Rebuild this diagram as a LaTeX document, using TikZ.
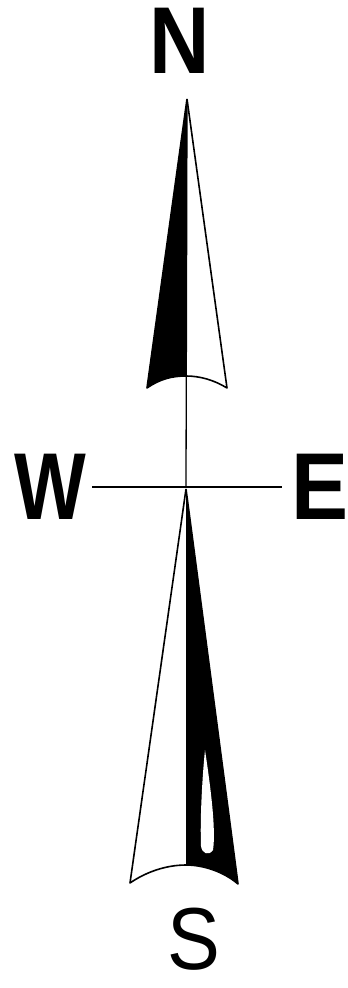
\documentclass[tikz,border=0pt]{standalone}
\usepackage{fontspec}
\setmainfont{Liberation Sans}
\usepackage{tikz}
\usetikzlibrary{calc}

\begin{document}
\begin{tikzpicture}[
  x=1pt,y=-1pt,
  letter/.style={inner sep=0pt,font=\fontsize{95}{95}\selectfont\bfseries},
  outline/.style={draw=black,line width=1.6pt,line join=round},
  axis/.style={draw=black,line width=1.3pt}
]
\useasboundingbox (0,0) rectangle (348,988);

% cardinal letters
\node[letter,xscale=0.88] (n) at (180,41) {N};
\node[letter,xscale=0.8] (w) at (50,487) {W};
\node[letter,xscale=0.9] (e) at (320,487) {E};
\node[letter,font=\fontsize{88}{88}\selectfont,xscale=0.9] (s) at (194,939) {S};

\coordinate (ctr) at (186,487);
\coordinate (ntip) at (187,99);
\coordinate (stip) at (186,489);
\coordinate (wend) at (92,487);
\coordinate (eend) at (282,487);

% north needle
\fill (ntip) -- (147,388) .. controls (160,379) and (172,376) .. (186,376) -- cycle;
\draw[outline] (ntip) -- (147,388) .. controls (160,379) and (172,376) .. (186,376)
  .. controls (200,376) and (214,380) .. (227,388) -- (ntip);

% south needle
\fill (stip) -- (238,884) .. controls (224,872) and (204,865) .. (186,865) -- cycle;
\fill[white] (205,750) .. controls (211,790) and (216,830) .. (213,850)
  .. controls (209,856) and (202,854) .. (201,846) .. controls (200,820) and (202,780) .. cycle;
\draw[outline] (stip) -- (130,883) .. controls (146,872) and (166,865) .. (186,865)
  .. controls (204,865) and (224,872) .. (238,884) -- (stip);

% axes
\draw[axis] (ntip) -- (ctr);
\draw[axis] (wend) -- (eend);
\end{tikzpicture}
\end{document}
